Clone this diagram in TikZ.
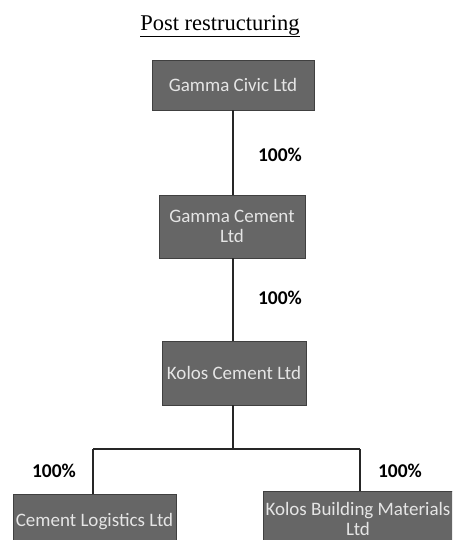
\documentclass[tikz,border=0pt]{standalone}
\usepackage{fontspec}
\setmainfont{Liberation Serif}
\newfontfamily\boxfont{Carlito}
\begin{document}
\begin{tikzpicture}[x=1pt,y=-1pt,
  entity/.style={draw=black!75, line width=0.8pt, fill=black!60, text=black!10,
    inner sep=0pt, align=center, font=\boxfont\fontsize{19}{20}\selectfont},
  link/.style={draw=black!85, line width=1.5pt},
  pct/.style={font=\boxfont\bfseries\fontsize{19.5}{20}\selectfont, text=black, inner sep=0pt}]
\useasboundingbox (0,0) rectangle (452,540);
\clip (0,0) rectangle (452,540);
\node[font=\fontsize{22.5}{24}\selectfont, inner sep=0pt] (title) at (220,26) {\underline{Post restructuring}};
\node[entity, minimum width=162pt, minimum height=50pt] (gc) at (233,85) {Gamma Civic Ltd};
\node[entity, minimum width=146pt, minimum height=63pt] (gce) at (232,226.5) {Gamma Cement\\Ltd};
\node[entity, minimum width=144pt, minimum height=64pt] (kc) at (234,373) {Kolos Cement Ltd};
\node[entity, minimum width=163pt, minimum height=56pt] (cl) at (94.5,522) {Cement Logistics Ltd};
\node[entity, minimum width=190pt, minimum height=56pt] (kb) at (358,519) {Kolos Building Materials\\Ltd};
\coordinate (j) at (233,449);
\coordinate (jl) at (93,449);
\coordinate (jr) at (360,449);
\draw[link] (gc.south -| j) -- (gce.north -| j);
\draw[link] (gce.south -| j) -- (kc.north -| j);
\draw[link] (kc.south -| j) -- (j);
\draw[link] (jl) -- (jr);
\draw[link] (jl) -- (cl.north -| jl);
\draw[link] (jr) -- (kb.north -| jr);
\node[pct] (p1) at (280,155) {100\%};
\node[pct] (p2) at (280,298) {100\%};
\node[pct] (p3) at (54,471) {100\%};
\node[pct] (p4) at (400,471) {100\%};
\end{tikzpicture}
\end{document}
